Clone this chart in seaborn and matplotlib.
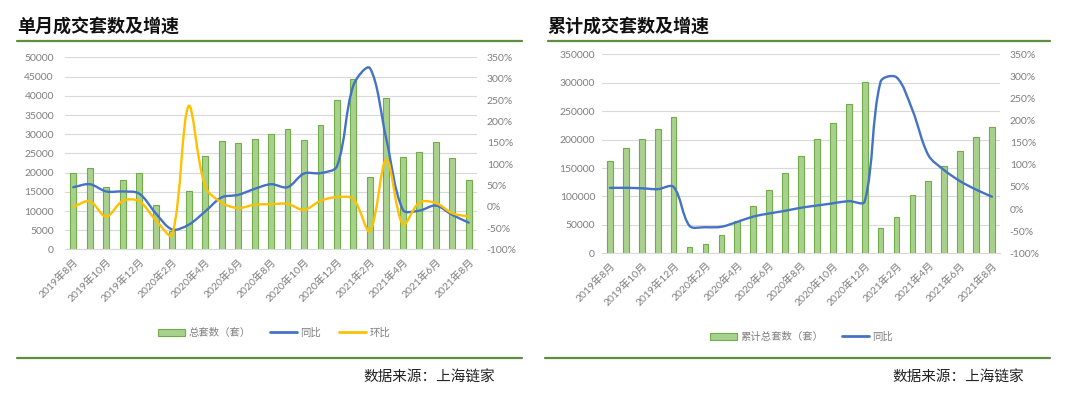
import numpy as np
import pandas as pd
import matplotlib
matplotlib.use('Agg')
import matplotlib.pyplot as plt
import seaborn as sns
from matplotlib.path import Path
from matplotlib.patches import PathPatch, Patch
from matplotlib.lines import Line2D

sns.set_style('white')
plt.rcParams['font.family'] = ['Lato', 'Noto Sans CJK SC', 'DejaVu Sans']

# 数据
months = ['2019年8月', '2019年9月', '2019年10月', '2019年11月', '2019年12月',
          '2020年1月', '2020年2月', '2020年3月', '2020年4月', '2020年5月',
          '2020年6月', '2020年7月', '2020年8月', '2020年9月', '2020年10月',
          '2020年11月', '2020年12月', '2021年1月', '2021年2月', '2021年3月',
          '2021年4月', '2021年5月', '2021年6月', '2021年7月', '2021年8月']

monthly_units = [19900, 21300, 16400, 18200, 19900, 11600, 4900, 15200, 24300, 28300,
                 27800, 28700, 30000, 31300, 28500, 32300, 39000, 44500, 19000, 39400,
                 24200, 25500, 28000, 23900, 18000]
monthly_yoy = [0.46, 0.53, 0.36, 0.36, 0.31, -0.15, -0.53, -0.42, -0.11, 0.22,
               0.28, 0.42, 0.53, 0.46, 0.78, 0.79, 0.95, 2.85, 3.25, 1.58,
               -0.07, -0.09, 0.03, -0.19, -0.37]
monthly_mom = [0.00, 0.13, -0.23, 0.14, 0.13, -0.31, -0.66, 2.36, 0.48, 0.10,
               -0.03, 0.05, 0.06, 0.07, -0.07, 0.14, 0.23, 0.18, -0.57, 1.11,
               -0.41, 0.10, 0.09, -0.15, -0.23]

cum_units = [163000, 185000, 201000, 219000, 240000, 11600, 16600, 32000, 56000, 84000,
             112000, 140500, 170500, 201800, 230000, 262000, 301000, 44500, 63500, 103000,
             127000, 153000, 180000, 204000, 222000]
cum_yoy = [0.48, 0.48, 0.47, 0.45, 0.50, -0.38, -0.41, -0.40, -0.29, -0.17,
           -0.10, -0.04, 0.03, 0.08, 0.13, 0.18, 0.17, 2.88, 2.98, 2.24,
           1.22, 0.88, 0.63, 0.44, 0.28]

BAR_FACE = '#A9D18E'
BAR_EDGE = '#70AD47'
BLUE = '#4472C4'
YELLOW = '#FFC000'
GRID = '#D9D9D9'
TXT = '#7f7f7f'
RULE = '#5f8f3e'


def smooth_path(xs, ys, sx, sy):
    # courbe lissée façon Excel : tangente Catmull-Rom, poignées pondérées
    # par la longueur des segments voisins (limite les dépassements)
    pts = np.column_stack([np.asarray(xs) * sx, np.asarray(ys) * sy]).astype(float)
    n = len(pts)
    fwd = np.zeros_like(pts)
    back = np.zeros_like(pts)
    for i in range(n):
        a = pts[max(i - 1, 0)]
        b = pts[min(i + 1, n - 1)]
        t = (b - a) / 6
        dp = np.hypot(*(pts[i] - a))
        dn = np.hypot(*(b - pts[i]))
        tot = dp + dn
        if tot == 0:
            continue
        fwd[i] = t * 2 * dn / tot
        back[i] = t * 2 * dp / tot
    verts = [pts[0]]
    codes = [Path.MOVETO]
    for i in range(n - 1):
        verts += [pts[i] + fwd[i], pts[i + 1] - back[i + 1], pts[i + 1]]
        codes += [Path.CURVE4] * 3
    verts = np.array(verts) / [sx, sy]
    return Path(verts, codes)


def draw_panel(fig, rect, units, lines, ymax, ystep, lpad, rpad):
    ax = fig.add_axes(rect)
    df = pd.DataFrame({'month': months, 'units': units})
    sns.barplot(data=df, x='month', y='units', color=BAR_FACE, saturation=1,
                width=0.36, edgecolor=BAR_EDGE, linewidth=0.8, ax=ax, zorder=2)
    ax.set_xlim(-0.5, len(months) - 0.5)
    ax.set_ylim(0, ymax)
    ax.set_yticks(np.arange(0, ymax + 1, ystep))
    ax.set_yticklabels([f'{int(v)}' for v in np.arange(0, ymax + 1, ystep)])
    ax.grid(axis='y', color=GRID, linewidth=0.8, zorder=0)
    ax.set_axisbelow(True)
    ax.set_xlabel('')
    ax.set_ylabel('')
    for s in ['top', 'left', 'right']:
        ax.spines[s].set_visible(False)
    ax.spines['bottom'].set_color(GRID)
    ax.spines['bottom'].set_linewidth(0.8)

    ax.set_xticks(range(0, len(months), 2))
    ax.set_xticklabels(months[::2], rotation=45, ha='right', va='top',
                       rotation_mode='anchor', fontsize=7.5, color=TXT)
    ax.set_xticks(np.arange(-0.5, len(months) - 1, 2), minor=True)
    ax.tick_params(axis='x', which='major', length=0, pad=5)
    ax.tick_params(axis='x', which='minor', length=3, color=GRID, width=0.8)
    ax.tick_params(axis='y', length=0, pad=lpad, labelsize=7.5, labelcolor=TXT)

    ax2 = ax.twinx()
    ax2.set_ylim(-1, 3.5)
    rt = np.arange(-1, 3.51, 0.5)
    ax2.set_yticks(rt)
    ax2.set_yticklabels([f'{int(round(v * 100))}%' for v in rt])
    ax2.tick_params(axis='y', length=0, pad=rpad, labelsize=7.5, labelcolor=TXT)
    ax2.grid(False)
    for s in ax2.spines.values():
        s.set_visible(False)
    x = np.arange(len(months))
    # échelles en pixels pour le lissage
    sx = rect[2] * 1080 / len(months)
    sy = rect[3] * 408 / 4.5
    for vals, col in lines:
        ax2.add_patch(PathPatch(smooth_path(x, vals, sx, sy), facecolor='none',
                                edgecolor=col, linewidth=1.7, zorder=3,
                                capstyle='round', joinstyle='round'))
    return ax


fig = plt.figure(figsize=(10.8, 4.08), dpi=100)

draw_panel(fig, [0.0602, 0.3885, 0.3815, 0.4706], monthly_units,
           [(monthly_yoy, BLUE), (monthly_mom, YELLOW)], 50000, 5000, 8, 7)
draw_panel(fig, [0.5574, 0.3792, 0.3685, 0.4877], cum_units,
           [(cum_yoy, BLUE)], 350000, 50000, 5, 7)

# titres et filets verts
fig.text(0.0157, 0.936, '单月成交套数及增速', fontsize=13, fontweight='bold',
         color='#111111', va='center', ha='left')
fig.text(0.507, 0.936, '累计成交套数及增速', fontsize=13, fontweight='bold',
         color='#111111', va='center', ha='left')
for x0, x1, y in [(0.0157, 0.483, 0.8995), (0.507, 0.972, 0.8995),
                  (0.0157, 0.483, 0.1225), (0.505, 0.972, 0.1225)]:
    fig.add_artist(Line2D([x0, x1], [y, y], transform=fig.transFigure,
                          color=RULE, linewidth=1.6))

# légendes
bar_h = Patch(facecolor=BAR_FACE, edgecolor=BAR_EDGE, linewidth=0.8)
fig.legend([bar_h, Line2D([], [], color=BLUE, lw=2), Line2D([], [], color=YELLOW, lw=2)],
           ['总套数（套）', '同比', '环比'], loc='center', bbox_to_anchor=(0.254, 0.184),
           ncol=3, frameon=False, fontsize=7.5, handlelength=2.6, handleheight=0.7,
           columnspacing=1.8, handletextpad=0.3, labelcolor=TXT)
fig.legend([bar_h, Line2D([], [], color=BLUE, lw=2)],
           ['累计总套数（套）', '同比'], loc='center', bbox_to_anchor=(0.742, 0.174),
           ncol=2, frameon=False, fontsize=7.5, handlelength=2.6, handleheight=0.7,
           columnspacing=1.8, handletextpad=0.3, labelcolor=TXT)

# source
fig.text(0.458, 0.076, '数据来源：上海链家', fontsize=10.5, color='#222222',
         ha='right', va='center', style='italic')
fig.text(0.948, 0.076, '数据来源：上海链家', fontsize=10.5, color='#222222',
         ha='right', va='center', style='italic')

fig.savefig('out.png', dpi=100, facecolor='white')
